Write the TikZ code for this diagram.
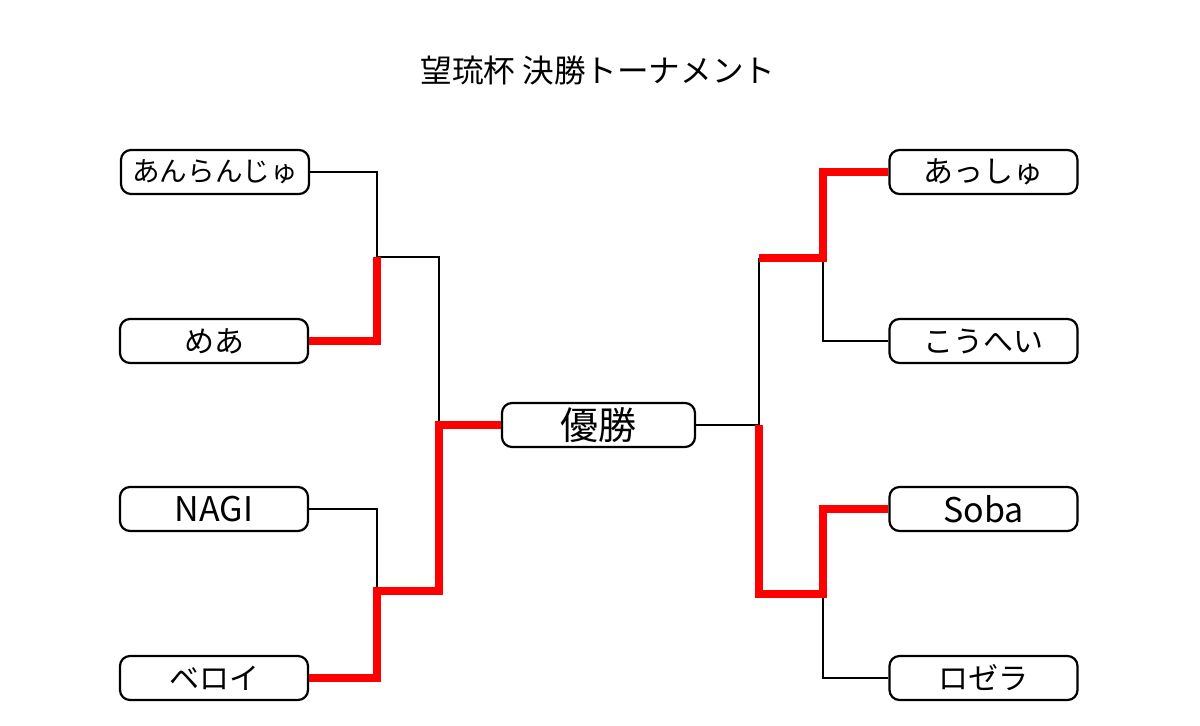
\documentclass[tikz,border=0pt]{standalone}
\usepackage{fontspec}
\setmainfont{Noto Sans CJK JP}
\begin{document}
\begin{tikzpicture}[x=0.5pt, y=-0.5pt,
    player/.style={draw, rounded corners=5pt, line width=1.1pt, fill=white,
        minimum width=94pt, minimum height=22pt, inner sep=0pt,
        font=\fontsize{15}{17}\selectfont},
    latin/.style={font=\fontsize{17}{19}\selectfont},
    lost/.style={line width=1pt},
    won/.style={line width=4pt, red}]
    \useasboundingbox (0, 0) rectangle (1200, 725);
    \node (title) at (598, 70) {\fontsize{15.8}{18}\selectfont 望琉杯 決勝トーナメント};
    % left block
    \node[player, font=\fontsize{13.8}{16}\selectfont] (a1) at (215, 172) {あんらんじゅ};
    \node[player] (a2) at (214, 341) {めあ};
    \node[player, latin] (a3) at (214, 509) {NAGI};
    \node[player] (a4) at (214, 678) {ベロイ};
    % right block
    \node[player] (b1) at (983.5, 172) {あっしゅ};
    \node[player] (b2) at (983.5, 341) {こうへい};
    \node[player, latin] (b3) at (983.5, 509) {Soba};
    \node[player] (b4) at (983.5, 678) {ロゼラ};
    \node[player, minimum width=96.5pt, font=\fontsize{19}{21}\selectfont]
        (champ) at (598.5, 425) {優勝};
    \coordinate (la) at (377, 257);
    \coordinate (lb) at (377, 591);
    \coordinate (lc) at (439, 425);
    \coordinate (ra) at (823, 258);
    \coordinate (rb) at (823, 594);
    \coordinate (rc) at (759, 425);
    % losing lines
    \draw[lost] (a1.east) -| (la);
    \draw[lost] (la) -| (lc);
    \draw[lost] (a3.east) -| (lb);
    \draw[lost] (b2.west) -| (ra);
    \draw[lost] (ra -| rc) -- (rc) -- (champ.east);
    \draw[lost] (b4.west) -| (rb);
    % winning lines
    \draw[won] (a2.east) -| (la);
    \draw[won] (a4.east) -| (lb) -| (lc) -- (champ.west);
    \draw[won] (b1.west) -| (ra) -- (ra -| rc);
    \draw[won] (b3.west) -| (rb) -| (rc);
\end{tikzpicture}
\end{document}
